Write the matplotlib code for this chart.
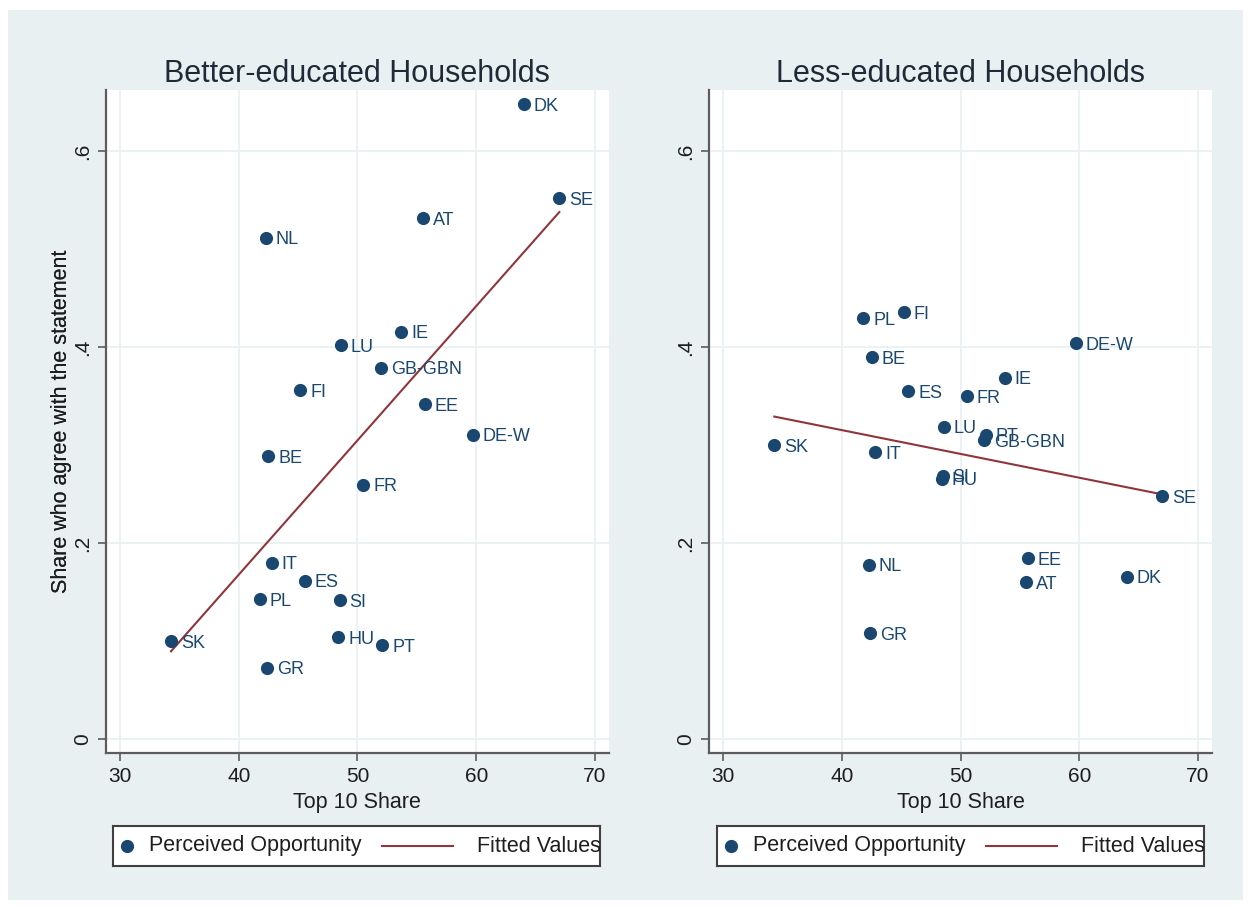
import numpy as np
import matplotlib
matplotlib.use('Agg')
import matplotlib.pyplot as plt
from matplotlib.patches import Rectangle

plt.rcParams['font.family'] = ['Liberation Sans', 'DejaVu Sans']

# country codes and income concentration (top 10 share)
countries = ['DK', 'SE', 'AT', 'NL', 'IE', 'LU', 'GB-GBN', 'FI', 'EE', 'DE-W',
             'BE', 'FR', 'IT', 'ES', 'PL', 'SI', 'SK', 'HU', 'PT', 'GR']
top10_share = [64.0, 67.0, 55.5, 42.3, 53.7, 48.6, 52.0, 45.2, 55.7, 59.7,
               42.5, 50.5, 42.8, 45.6, 41.8, 48.5, 34.3, 48.4, 52.1, 42.4]

# share who agree with the statement, by education group
better_educated = [0.648, 0.552, 0.532, 0.512, 0.416, 0.402, 0.379, 0.356, 0.342, 0.311,
                   0.289, 0.260, 0.180, 0.162, 0.143, 0.142, 0.100, 0.104, 0.096, 0.073]
less_educated = [0.166, 0.248, 0.160, 0.178, 0.369, 0.319, 0.305, 0.436, 0.185, 0.404,
                 0.390, 0.350, 0.293, 0.355, 0.430, 0.269, 0.300, 0.266, 0.311, 0.108]

panel_titles = ['Better-educated Households', 'Less-educated Households']
x_ticks = [30, 40, 50, 60, 70]
y_ticks = [0, 0.2, 0.4, 0.6]
y_tick_labels = ['0', '.2', '.4', '.6']
legend_labels = ['Perceived Opportunity', 'Fitted Values']

W, H = 1250, 909
NAVY = '#1a476f'
MAROON = '#90353b'
BG = '#e9f0f2'
GRID = '#e9f1f3'
AXIS = '#5c5c5c'

fig = plt.figure(figsize=(W / 100, H / 100), dpi=100)
fig.patch.set_facecolor('white')
fig.add_artist(Rectangle((8 / W, 1 - 900 / H), (1243 - 8) / W, (900 - 10) / H,
                         transform=fig.transFigure, facecolor=BG, edgecolor='none', zorder=0))


def px_rect(left, top, right, bottom):
    return [left / W, 1 - bottom / H, (right - left) / W, (bottom - top) / H]


def draw_panel(rect, yvals, title):
    ax = fig.add_axes(px_rect(*rect))
    x = np.array(top10_share)
    y = np.array(yvals)
    ax.set_facecolor('white')
    ax.set_xlim(28.8, 71.18)
    ax.set_ylim(-0.0137, 0.6626)
    ax.set_xticks(x_ticks)
    ax.set_yticks(y_ticks)
    ax.set_yticklabels(y_tick_labels)
    ax.grid(True, color=GRID, linewidth=1.3, zorder=0)
    ax.set_axisbelow(True)
    for side in ['top', 'right']:
        ax.spines[side].set_visible(False)
    for side in ['left', 'bottom']:
        ax.spines[side].set_color(AXIS)
        ax.spines[side].set_linewidth(1.6)
    ax.tick_params(axis='both', length=6, width=1.2, color=AXIS, labelsize=15,
                   labelcolor='#1e1e1e')
    ax.tick_params(axis='x', pad=4)
    ax.tick_params(axis='y', pad=4, labelrotation=90)
    for lbl in ax.get_yticklabels():
        lbl.set_va('center')

    # linear fit over the observed range
    slope, intercept = np.polyfit(x, y, 1)
    xs = np.array([x.min(), x.max()])
    ax.plot(xs, intercept + slope * xs, color=MAROON, linewidth=1.5, zorder=2)

    ax.scatter(x, y, s=90, color=NAVY, zorder=3, linewidths=0)
    for name, xi, yi in zip(countries, x, y):
        ax.annotate(name, (xi, yi), xytext=(7, -1.5), textcoords='offset points',
                    va='center', ha='left', fontsize=13, color=NAVY, zorder=4)

    ax.set_xlabel('Top 10 Share', fontsize=15.5, color='#1e1e1e')
    ax.xaxis.label.set_va('baseline')
    ax.xaxis.set_label_coords(0.5, -(808 - rect[3]) / (rect[3] - rect[1]))
    ax.set_ylabel('Share who agree with the statement', fontsize=15.5, color='#1e1e1e')
    ax.yaxis.label.set_va('center')
    ax.yaxis.set_label_coords((62 - rect[0]) / (rect[2] - rect[0]), 0.5)

    fig.text((rect[0] + rect[2]) / 2 / W, 1 - 82 / H, title, ha='center', va='baseline',
             fontsize=22, color='#1e2a38')
    return ax


def draw_legend(left, top):
    w, h = 487, 40
    lax = fig.add_axes(px_rect(left, top, left + w, top + h))
    lax.set_xlim(0, w)
    lax.set_ylim(h, 0)
    lax.set_xticks([])
    lax.set_yticks([])
    lax.set_facecolor('white')
    for sp in lax.spines.values():
        sp.set_color('#404040')
        sp.set_linewidth(1.5)
    lax.plot([14], [h / 2], 'o', markersize=8.5, color=NAVY)
    lax.text(36, h / 2, legend_labels[0], va='center', ha='left', fontsize=15.5, color='#1e1e1e')
    lax.plot([269, 340], [h / 2, h / 2], color=MAROON, linewidth=1.5)
    lax.text(364, h / 2, legend_labels[1], va='center', ha='left', fontsize=15.5,
             color='#1e1e1e', clip_on=True)


draw_panel((105.7, 90, 609, 752.7), better_educated, panel_titles[0])
draw_panel((709, 90, 1212, 752.7), less_educated, panel_titles[1])
draw_legend(113, 826)
draw_legend(717, 826)

fig.savefig('out.png', dpi=100, facecolor=fig.get_facecolor())
